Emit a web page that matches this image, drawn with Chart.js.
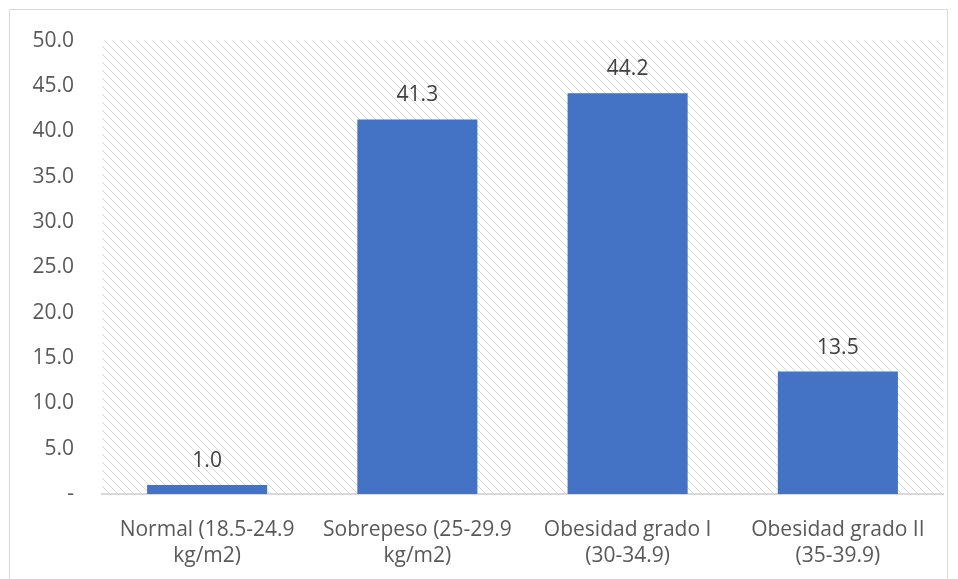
<!DOCTYPE html>
<html>
<head>
<meta charset="utf-8">
<script src="https://cdn.jsdelivr.net/npm/chart.js@4/dist/chart.umd.min.js"></script>
<style>
  html, body { margin: 0; padding: 0; background: #fff; }
  #wrap { position: relative; width: 958px; height: 579px; }
  #frame { position: absolute; left: 9px; top: 9px; width: 939px; height: 580px; border: 1px solid #d9d9d9; box-sizing: border-box; pointer-events: none; }
  canvas { position: absolute; left: 0; top: 0; }
</style>
</head>
<body>
<div id="wrap">
  <canvas id="chart" width="958" height="579"></canvas>
  <div id="frame"></div>
</div>
<script>
// Distribución por categoría de IMC (%)
const categories = [
  ['Normal (18.5-24.9', 'kg/m2)'],
  ['Sobrepeso (25-29.9', 'kg/m2)'],
  ['Obesidad grado I', '(30-34.9)'],
  ['Obesidad grado II', '(35-39.9)']
];
const percentages = [1.0, 41.3, 44.2, 13.5];
const yTicks = [0, 5, 10, 15, 20, 25, 30, 35, 40, 45, 50];

const FONT = '"Open Sans", "Noto Sans", sans-serif';
const FONT_SIZE = 21;

// Diagonal hatch used as the plot-area background
function makeHatch() {
  const c = document.createElement('canvas');
  c.width = 8; c.height = 8;
  const g = c.getContext('2d');
  g.fillStyle = '#d6d6d6';
  for (let i = 0; i < 8; i++) g.fillRect(i, i, 1, 1);
  return g.createPattern(c, 'repeat');
}

const hatchPlugin = {
  id: 'hatchBackground',
  beforeDatasetsDraw(chart) {
    const { ctx, chartArea: a } = chart;
    ctx.save();
    ctx.fillStyle = makeHatch();
    ctx.fillRect(a.left, a.top, a.right - a.left, a.bottom - a.top);
    ctx.restore();
  }
};

const valueLabels = {
  id: 'valueLabels',
  afterDatasetsDraw(chart) {
    const { ctx } = chart;
    const meta = chart.getDatasetMeta(0);
    ctx.save();
    ctx.font = FONT_SIZE + 'px ' + FONT;
    ctx.fillStyle = '#404040';
    ctx.textAlign = 'center';
    ctx.textBaseline = 'middle';
    meta.data.forEach((bar, i) => {
      ctx.fillText(percentages[i].toFixed(1), bar.x, bar.y - 24);
    });
    ctx.restore();
  }
};

new Chart(document.getElementById('chart'), {
  type: 'bar',
  data: {
    labels: categories,
    datasets: [{
      data: percentages,
      backgroundColor: '#4472C4',
      borderWidth: 0,
      barPercentage: 0.571,
      categoryPercentage: 1.0
    }]
  },
  options: {
    responsive: false,
    animation: false,
    devicePixelRatio: 1,
    layout: { padding: { left: 9, right: 15, top: 39, bottom: 0 } },
    plugins: { legend: { display: false }, tooltip: { enabled: false } },
    scales: {
      x: {
        grid: { display: false, drawTicks: false },
        border: { display: true, color: '#d9d9d9', width: 2 },
        ticks: {
          color: '#595959',
          font: { family: FONT, size: FONT_SIZE, lineHeight: 1.24 },
          padding: 23,
          maxRotation: 0,
          autoSkip: false
        },
        afterFit(scale) { scale.height = 85; }
      },
      y: {
        min: 0,
        max: 50,
        afterBuildTicks(scale) { scale.ticks = yTicks.map(v => ({ value: v })); },
        grid: { display: false, drawTicks: false },
        border: { display: false },
        ticks: {
          color: '#595959',
          font: { family: FONT, size: FONT_SIZE },
          padding: 28,
          callback: v => (v === 0 ? '-' : Number(v).toFixed(1))
        },
        afterFit(scale) { scale.width = 93; }
      }
    }
  },
  plugins: [hatchPlugin, valueLabels]
});
</script>
</body>
</html>
